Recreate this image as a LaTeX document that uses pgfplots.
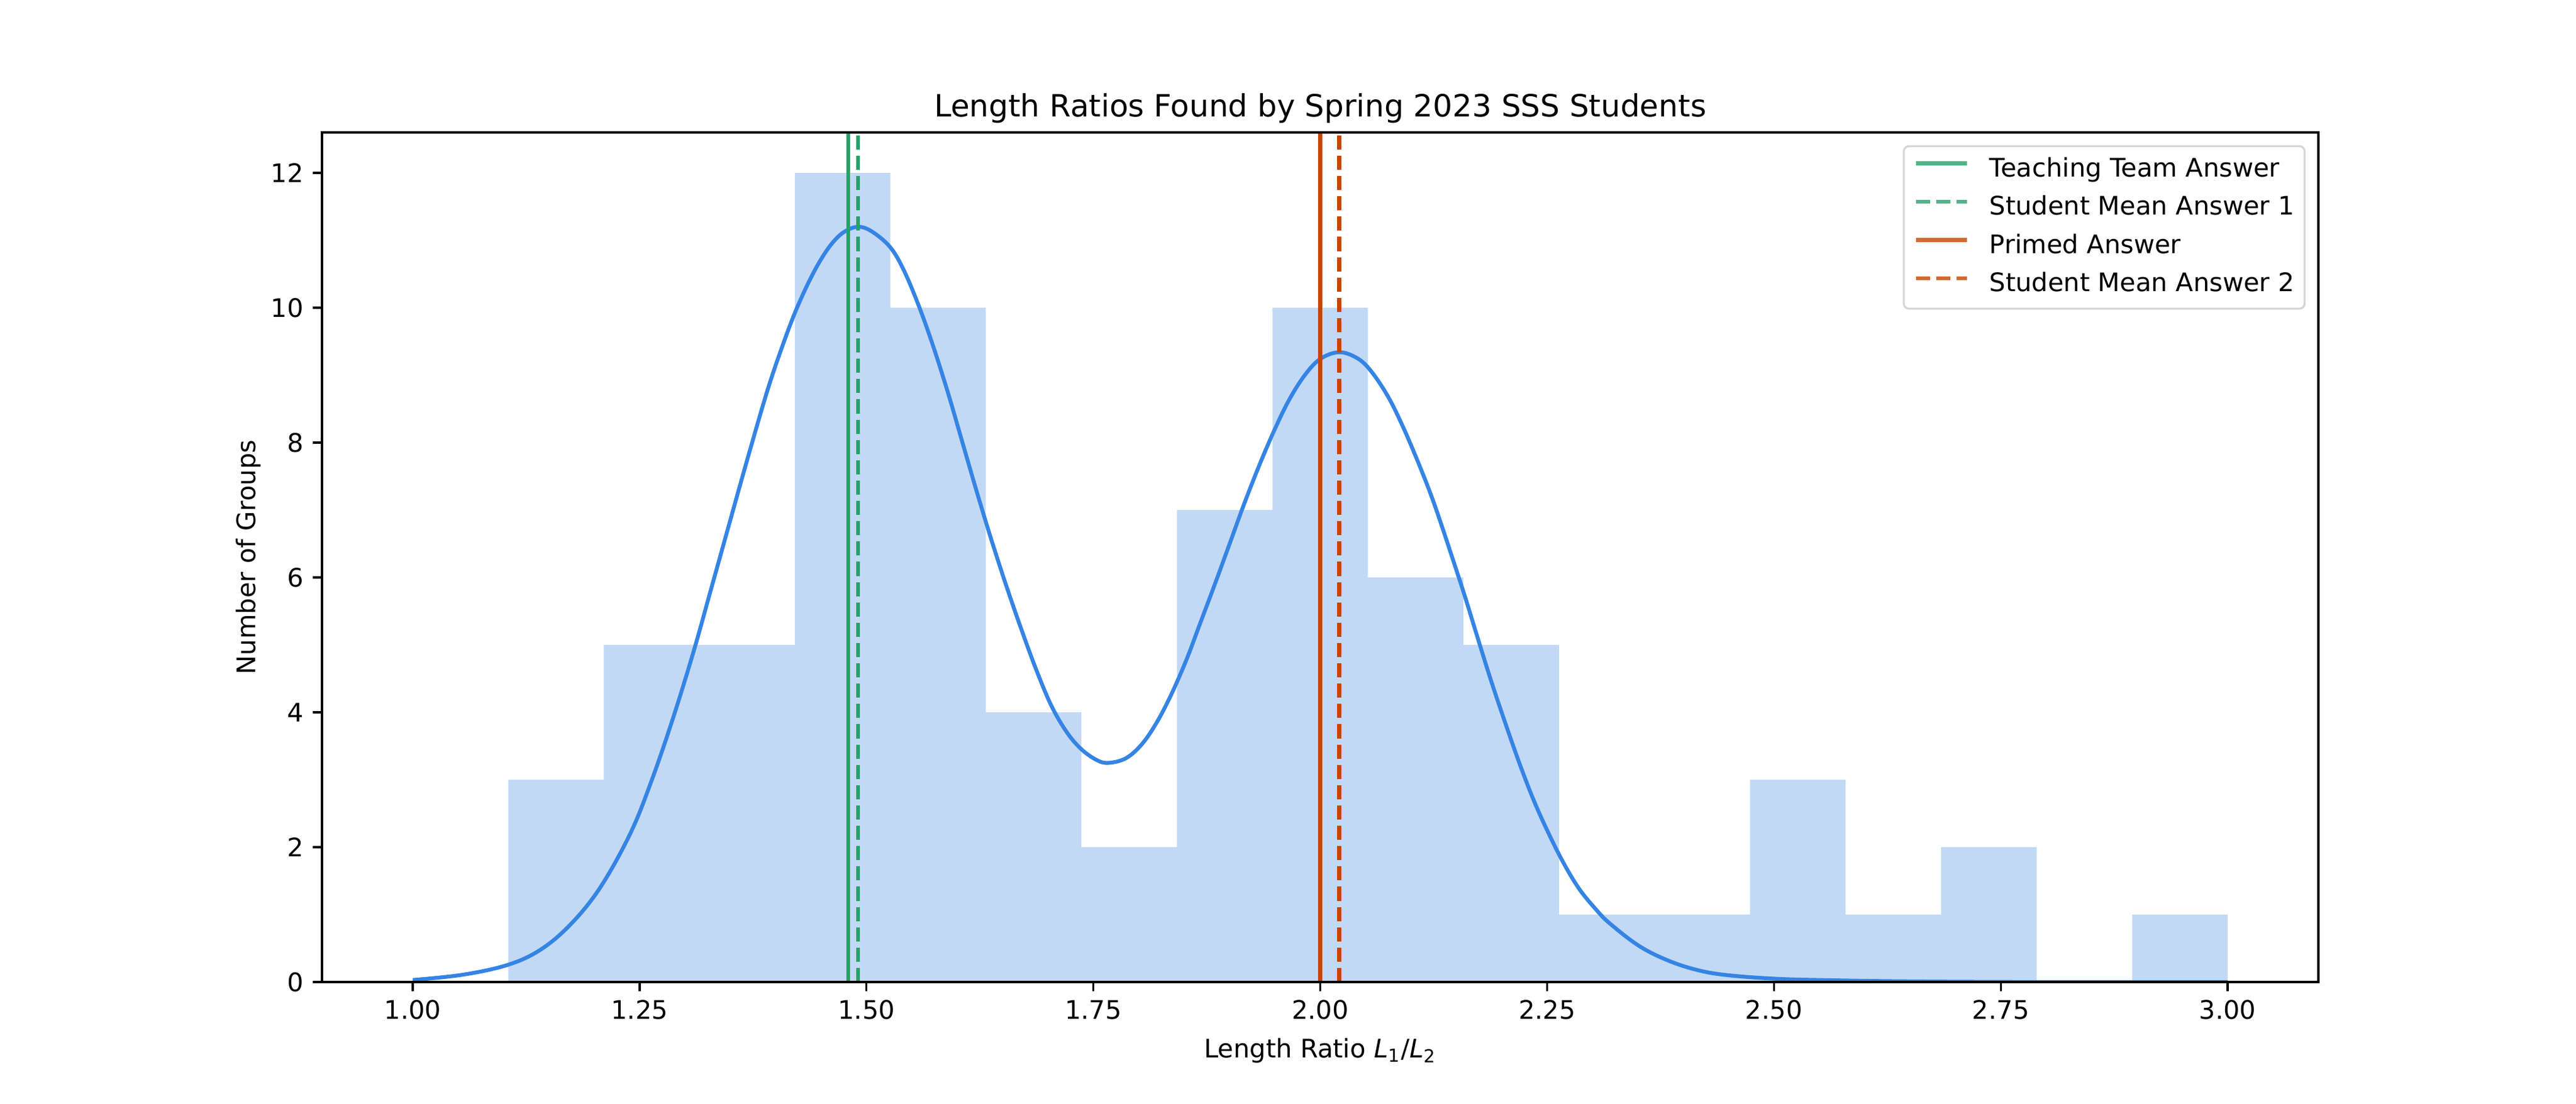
\documentclass[border=0pt]{standalone}
\usepackage{fontspec}
\setmainfont{DejaVu Sans}
\usepackage{pgfplots}
\pgfplotsset{compat=1.18}
\definecolor{histfill}{HTML}{C2D9F5}
\definecolor{kdeblue}{HTML}{3584E4}
\definecolor{ttgreen}{HTML}{26A269}
\definecolor{porange}{HTML}{C64600}
\definecolor{legendgray}{HTML}{CCCCCC}
\begin{document}
\begin{tikzpicture}
\begin{axis}[
  at={(0pt,0pt)}, anchor=south west,
  scale only axis, width=781.2pt, height=332.64pt,
  xmin=0.9, xmax=3.1, ymin=0, ymax=12.6,
  font=\fontsize{10}{12}\selectfont,
  /pgf/number format/assume math mode=true,
  axis line style={line width=0.8pt, black},
  tick align=outside, tick pos=left,
  major tick length=3.5pt,
  every tick/.style={line width=0.8pt, black},
  xtick={1,1.25,1.5,1.75,2,2.25,2.5,2.75,3},
  xticklabels={1.00,1.25,1.50,1.75,2.00,2.25,2.50,2.75,3.00},
  ytick={0,2,4,6,8,10,12},
  yticklabels={0,2,4,6,8,10,12},
  xticklabel style={anchor=north, inner sep=0pt, yshift=-3.5pt},
  yticklabel style={anchor=east, inner sep=0pt, xshift=-3.5pt},
  axis on top,
  every axis title shift=0pt,
  title={Length Ratios Found by Spring 2023 SSS Students},
  title style={at={(axis description cs:0.5,1.01834)}, anchor=base, inner sep=0pt, font=\fontsize{12}{14.4}\selectfont},
  xlabel={Length Ratio \textit{L}\textsubscript{1}/\textit{L}\textsubscript{2}},
  xlabel style={at={(axis description cs:0.5,-0.08929)}, anchor=base, inner sep=0pt},
  ylabel={Number of Groups},
  ylabel style={at={(axis description cs:-0.03341,0.5)}, anchor=base, inner sep=0pt},
  legend style={
    at={(rel axis cs:1,1)}, anchor=north east, xshift=-5pt, yshift=-5pt,
    draw=legendgray, line width=0.8pt, rounded corners=2pt,
    fill=white, fill opacity=0.8, draw opacity=0.8, text opacity=1,
    inner xsep=4pt, inner ysep=4.3pt,
    row sep=5pt, column sep=8pt,
    nodes={inner sep=0pt, text height=7.6pt, text depth=2.4pt},
    font=\fontsize{10}{12}\selectfont,
  },
  legend cell align=left,
  legend image code/.code={\draw[#1, line cap=butt] (0pt,2.6pt) -- (20pt,2.6pt);},
]
\addplot[ybar interval, fill=histfill, draw=none, forget plot] coordinates {
(1.00000,0) (1.10526,3) (1.21053,5) (1.31579,5) (1.42105,12) (1.52632,10)
(1.63158,4) (1.73684,2) (1.84211,7) (1.94737,10) (2.05263,6) (2.15789,5)
(2.26316,1) (2.36842,1) (2.47368,3) (2.57895,1) (2.68421,2) (2.78947,0)
(2.89474,1) (3.00000,1)};
\addplot[kdeblue, line width=1.5pt, smooth, tension=0.6, forget plot] coordinates {
(1.000,0.03) (1.056,0.11) (1.106,0.26) (1.142,0.49) (1.175,0.87) (1.207,1.41)
(1.240,2.21) (1.263,2.98) (1.286,3.88) (1.309,4.88) (1.329,5.84) (1.352,6.95)
(1.371,7.86) (1.391,8.78) (1.406,9.38) (1.421,9.92) (1.436,10.37) (1.450,10.72)
(1.463,10.97) (1.476,11.13) (1.491,11.20)
(1.506,11.13) (1.526,10.90) (1.541,10.56) (1.557,10.05) (1.573,9.45) (1.590,8.73)
(1.606,7.99) (1.622,7.25) (1.639,6.50) (1.655,5.84) (1.672,5.18) (1.688,4.60)
(1.704,4.09) (1.721,3.70) (1.737,3.45) (1.754,3.29) (1.767,3.25) (1.786,3.32)
(1.803,3.52) (1.819,3.83) (1.835,4.24) (1.852,4.76) (1.868,5.33) (1.885,5.94)
(1.901,6.53) (1.917,7.12) (1.934,7.70) (1.950,8.20) (1.966,8.64) (1.983,9.00)
(2.000,9.24) (2.021,9.34) (2.041,9.25) (2.056,9.06) (2.074,8.70) (2.090,8.27)
(2.106,7.77) (2.123,7.19) (2.139,6.56) (2.158,5.78) (2.172,5.17) (2.188,4.48)
(2.205,3.80) (2.221,3.19) (2.237,2.64) (2.254,2.14) (2.270,1.72) (2.286,1.37)
(2.303,1.09) (2.319,0.87) (2.352,0.53) (2.385,0.31) (2.418,0.17) (2.450,0.10)
(2.500,0.05) (2.550,0.03) (2.650,0.01) (2.800,0.00) (3.000,0.00)};
\addplot[ttgreen, line width=1.5pt] coordinates {(1.480,0) (1.480,12.6)};
\addlegendentry{Teaching Team Answer}
\addplot[ttgreen, line width=1.5pt, dash pattern=on 5.55pt off 2.4pt] coordinates {(1.4905,0) (1.4905,12.6)};
\addlegendentry{Student Mean Answer 1}
\addplot[porange, line width=1.5pt] coordinates {(2.000,0) (2.000,12.6)};
\addlegendentry{Primed Answer}
\addplot[porange, line width=1.5pt, dash pattern=on 5.55pt off 2.4pt] coordinates {(2.021,0) (2.021,12.6)};
\addlegendentry{Student Mean Answer 2}
\end{axis}
\pgfresetboundingbox
\path[use as bounding box] (-126pt,-47.52pt) rectangle (882pt,384.48pt);
\end{tikzpicture}
\end{document}
